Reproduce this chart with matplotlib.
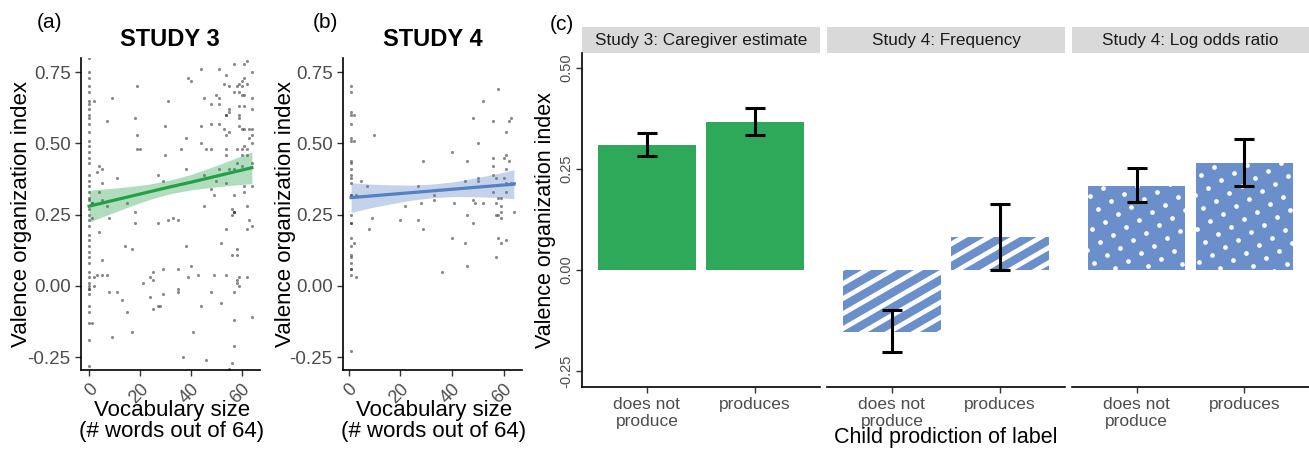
import matplotlib
matplotlib.use('Agg')
import matplotlib.pyplot as plt
import numpy as np

plt.rcParams['font.family'] = ['Liberation Sans', 'DejaVu Sans']
plt.rcParams['axes.unicode_minus'] = False

# ---- data ----
# Study 3: vocabulary size vs valence organization index
s3_vocab = [0] * 45 + [
    1, 2, 19, 9, 7, 18, 30, 19, 19, 20, 4, 5, 3, 27, 11, 5, 29, 4, 1, 5, 7, 15, 18,
    1, 8, 18, 27, 4, 14, 17, 5, 3, 5, 7, 2, 2, 8, 11, 13, 15, 1, 17, 9, 21, 24, 25,
    25, 29, 24, 29, 25, 27, 28,
    57, 61, 62, 44, 51, 64, 39, 40, 54, 61, 60, 59, 62, 53, 55, 58, 60, 57, 59, 61,
    60, 45, 50, 51, 64, 48, 51, 55, 55, 59, 61, 64, 54, 54, 59, 59, 31, 44, 48, 51,
    53, 55, 59, 60, 61, 63, 64, 38, 54, 64, 63, 64, 44, 36, 46, 48, 54, 58, 60, 61,
    62, 30, 54, 60, 62, 64, 58, 60, 38, 45, 51, 55, 57, 50, 54, 61, 64, 48, 61, 49,
    57, 45, 62, 56, 57, 57,
    31, 33, 35, 56, 57, 63, 64, 62, 54, 38, 52, 56, 58, 58, 40, 35, 39, 43, 49, 54,
    59, 58, 58, 59, 62, 35, 35, 48, 57, 44, 52, 57, 64, 41, 57, 37, 46, 56, 55,
]
s3_index = [
    0.80, 0.75, 0.73, 0.70, 0.68, 0.65, 0.64, 0.62, 0.60, 0.59, 0.57, 0.54, 0.51,
    0.49, 0.47, 0.45, 0.43, 0.39, 0.37, 0.35, 0.33, 0.31, 0.30, 0.27, 0.25, 0.23,
    0.21, 0.18, 0.16, 0.14, 0.12, 0.10, 0.08, 0.05, 0.03, 0.01, 0.00, -0.01, -0.01,
    -0.03, -0.07, -0.09, -0.13, -0.19, -0.28,
    0.29, 0.65, 0.70, 0.66, 0.58, 0.59, 0.56, 0.53, 0.48, 0.48, 0.42, 0.41, 0.40,
    0.39, 0.38, 0.36, 0.37, 0.33, 0.29, 0.30, 0.28, 0.29, 0.26,
    0.24, 0.24, 0.22, 0.22, 0.19, 0.14, 0.13, 0.09, 0.04, 0.04, 0.04, 0.03, 0.00,
    -0.02, -0.02, -0.05, -0.09, -0.13, -0.16, -0.18, 0.01, 0.03, 0.02, 0.05, 0.06,
    -0.04, -0.03, -0.08, -0.07, -0.07,
    0.78, 0.78, 0.79, 0.76, 0.76, 0.75, 0.73, 0.72, 0.74, 0.73, 0.72, 0.71, 0.71,
    0.71, 0.70, 0.70, 0.70, 0.68, 0.68, 0.67, 0.67, 0.66, 0.67, 0.66, 0.66, 0.64,
    0.64, 0.62, 0.61, 0.63, 0.63, 0.62, 0.60, 0.60, 0.60, 0.59, 0.65, 0.56, 0.57,
    0.57, 0.55, 0.54, 0.56, 0.55, 0.55, 0.55, 0.55, 0.52, 0.53, 0.53, 0.52, 0.50,
    0.50, 0.48, 0.48, 0.48, 0.48, 0.48, 0.48, 0.49, 0.48, 0.46, 0.46, 0.46, 0.46,
    0.43, 0.43, 0.42, 0.41, 0.39, 0.41, 0.41, 0.41, 0.37, 0.36, 0.35, 0.35, 0.34,
    0.33, 0.32, 0.32, 0.28, 0.28, 0.27, 0.26, 0.26,
    0.23, 0.24, 0.23, 0.25, 0.26, 0.23, 0.21, 0.20, 0.20, 0.14, 0.15, 0.11, 0.13,
    0.11, 0.07, 0.06, 0.03, 0.04, 0.04, 0.04, 0.03, 0.02, 0.01, 0.00, 0.03, -0.01,
    -0.02, -0.02, -0.02, -0.07, -0.06, -0.12, -0.11, -0.16, -0.21, -0.25, -0.26,
    -0.27, -0.29,
]
# Study 4
s4_vocab = [1] * 27 + [2, 2] + [
    3, 5, 7, 10, 22, 28, 29, 27, 33, 33, 41, 40, 45, 46, 48, 50, 50, 50, 48, 49, 52,
    52, 56, 56, 56, 56, 56, 57, 57, 58, 58, 59, 59, 60, 61, 61, 62, 60, 61, 61, 61,
    62, 63, 63, 64, 64, 57, 59,
    2, 3, 8, 9, 20, 27, 29, 36, 40, 45, 46, 48, 46, 57, 58, 59, 61, 59, 58,
]
s4_index = [
    0.70, 0.68, 0.61, 0.60, 0.57, 0.52, 0.51, 0.44, 0.43, 0.41, 0.39, 0.38, 0.36,
    0.32, 0.32, 0.25, 0.22, 0.22, 0.17, 0.14, 0.11, 0.10, 0.08, 0.06, 0.06, 0.04,
    -0.23, 0.60, 0.51,
    0.32, 0.37, 0.35, 0.53, 0.28, 0.29, 0.44, 0.35, 0.32, 0.30, 0.29, 0.47, 0.37,
    0.44, 0.59, 0.50, 0.38, 0.37, 0.30, 0.29, 0.65, 0.29, 0.58, 0.45, 0.42, 0.39,
    0.33, 0.38, 0.29, 0.69, 0.31, 0.31, 0.28, 0.45, 0.46, 0.41, 0.44, 0.38, 0.36,
    0.33, 0.54, 0.58, 0.59, 0.36, 0.36, 0.26, 0.25, 0.26,
    0.15, 0.03, 0.20, 0.24, 0.23, 0.23, 0.20, 0.05, 0.17, 0.15, 0.25, 0.22, 0.07,
    0.10, 0.17, 0.15, 0.16, 0.24, 0.25,
]

# fitted line and 95% band, read at a few vocabulary sizes
s3_fit_x = [0, 8, 16, 24, 32, 40, 48, 56, 64]
s3_fit = [0.280, 0.297, 0.314, 0.331, 0.348, 0.364, 0.381, 0.398, 0.415]
s3_lo = [0.224, 0.252, 0.279, 0.304, 0.324, 0.337, 0.346, 0.353, 0.359]
s3_hi = [0.336, 0.342, 0.349, 0.358, 0.372, 0.391, 0.416, 0.443, 0.471]
s4_fit_x = [1, 9, 17, 25, 33, 41, 49, 57, 64]
s4_fit = [0.310, 0.316, 0.322, 0.328, 0.334, 0.340, 0.346, 0.352, 0.357]
s4_lo = [0.258, 0.275, 0.289, 0.302, 0.310, 0.314, 0.313, 0.311, 0.306]
s4_hi = [0.362, 0.357, 0.355, 0.354, 0.358, 0.366, 0.379, 0.393, 0.408]

# panel (c)
categories = ['does not\nproduce', 'produces']
facets = ['Study 3: Caregiver estimate', 'Study 4: Frequency', 'Study 4: Log odds ratio']
bar_means = [[0.309, 0.366], [-0.153, 0.082], [0.208, 0.265]]
bar_lo = [[0.283, 0.334], [-0.203, 0.000], [0.168, 0.208]]
bar_hi = [[0.339, 0.400], [-0.099, 0.163], [0.252, 0.324]]

GREEN = '#2EA95A'
BLUE = '#6A8FCB'
TICK_GREY = '#4D4D4D'

W, H = 1309, 450
fig = plt.figure(figsize=(W / 100, H / 100), dpi=100)


def px_axes(l, t, r, b):
    return fig.add_axes([l / W, 1 - b / H, (r - l) / W, (b - t) / H])


def scatter_panel(ax, vocab, idx, fx, fy, lo, hi, line_col, band_col, xlim):
    ax.scatter(vocab, idx, s=5, color='#3A3A3A', alpha=0.6, linewidths=0, zorder=2)
    ax.fill_between(fx, lo, hi, color=band_col, alpha=0.35, lw=0, zorder=3)
    ax.plot(fx, fy, color=line_col, lw=2.3, zorder=4)
    ax.set_xlim(*xlim)
    ax.set_ylim(-0.295, 0.80)
    ax.set_yticks([-0.25, 0, 0.25, 0.5, 0.75])
    ax.set_yticklabels(['-0.25', '0.00', '0.25', '0.50', '0.75'])
    ax.set_xticks([0, 20, 40, 60])
    ax.set_xticklabels(['0', '20', '40', '60'], rotation=45, ha='right',
                       rotation_mode='anchor')
    for s in ['top', 'right']:
        ax.spines[s].set_visible(False)
    for s in ['left', 'bottom']:
        ax.spines[s].set_linewidth(1.2)
    ax.tick_params(length=4, width=1.0, color='#333333', labelcolor=TICK_GREY,
                   labelsize=13.5)
    ax.tick_params(axis='x', labelsize=13)


ax_a = px_axes(81, 58, 260, 370)
scatter_panel(ax_a, s3_vocab, s3_index, s3_fit_x, s3_fit, s3_lo, s3_hi,
              '#22A046', '#22A046', (-3.2, 67.2))
ax_b = px_axes(343, 58, 522, 370)
scatter_panel(ax_b, s4_vocab, s4_index, s4_fit_x, s4_fit, s4_lo, s4_hi,
              '#5680C4', '#5680C4', (-2.15, 67.15))

for x, t in [(170, 'STUDY 3'), (433, 'STUDY 4')]:
    fig.text(x / W, 1 - 39 / H, t, ha='center', va='center', fontsize=17,
             fontweight='bold')
for x, y, t in [(50, 22, '(a)'), (325, 22, '(b)'), (562, 24, '(c)')]:
    fig.text(x / W, 1 - y / H, t, ha='center', va='center', fontsize=15)
for x in [22, 285]:
    fig.text(x / W, 1 - 214 / H, 'Valence organization index', rotation=90,
             ha='center', va='center', fontsize=16)
for x in [172, 434]:
    fig.text(x / W, 1 - 421 / H, 'Vocabulary size\n(# words out of 64)',
             ha='center', va='center', fontsize=16, linespacing=1.05)


def pattern_frame(ax, bar, angle):
    # bar corners in pixels, plus the unit vectors of the rotated pattern grid
    bb = bar.get_window_extent()
    th = np.deg2rad(angle)
    d = np.array([np.cos(th), np.sin(th)])
    n = np.array([-np.sin(th), np.cos(th)])
    centre = np.array([(bb.x0 + bb.x1) / 2, (bb.y0 + bb.y1) / 2])
    L = np.hypot(bb.width, bb.height) / 2 + 20
    return d, n, centre, L


def stripe_fill(ax, bar, spacing=13.0, angle=30, lw=3.4):
    d, n, centre, L = pattern_frame(ax, bar, angle)
    inv = ax.transData.inverted()
    for c in np.arange(-L, L + spacing, spacing):
        p = inv.transform([centre + c * n - L * d, centre + c * n + L * d])
        ln, = ax.plot(p[:, 0], p[:, 1], color='white', lw=lw,
                      solid_capstyle='butt', zorder=2.5)
        ln.set_clip_path(bar)


def dot_fill(ax, bar, spacing=15.0, angle=30, size=3.4):
    d, n, centre, L = pattern_frame(ax, bar, angle)
    k = np.arange(-L, L + spacing, spacing)
    uu, vv = np.meshgrid(k, k)
    pts = centre + np.outer(uu.ravel(), d) + np.outer(vv.ravel(), n)
    p = ax.transData.inverted().transform(pts)
    ln, = ax.plot(p[:, 0], p[:, 1], ls='None', marker='o', markersize=size,
                  markerfacecolor='white', markeredgewidth=0, zorder=2.5)
    ln.set_clip_path(bar)


panel_px = [(582, 820), (827, 1065), (1072, 1309)]
xpos = [1, 2]
for i, (l, r) in enumerate(panel_px):
    strip = px_axes(l, 27, r, 53)
    strip.set_facecolor('#D9D9D9')
    strip.set_xticks([])
    strip.set_yticks([])
    for s in strip.spines.values():
        s.set_visible(False)
    strip.text(0.5, 0.5, facets[i], ha='center', va='center', fontsize=12.3,
               color='#1A1A1A', transform=strip.transAxes)

    ax = px_axes(l, 53, r, 387)
    ax.set_xlim(0.4, 2.6)
    ax.set_ylim(-0.29, 0.537)
    color = GREEN if i == 0 else BLUE
    bars = ax.bar(xpos, bar_means[i], width=0.9, color=color, lw=0, zorder=2)
    means = np.array(bar_means[i])
    yerr = [means - np.array(bar_lo[i]), np.array(bar_hi[i]) - means]
    ax.errorbar(xpos, means, yerr=yerr, fmt='none', ecolor='black', elinewidth=2.2,
                capsize=7.5, capthick=2.2, zorder=4)
    if i == 1:
        for b in bars:
            stripe_fill(ax, b)
    elif i == 2:
        for b in bars:
            dot_fill(ax, b)
    ax.set_xlim(0.4, 2.6)
    ax.set_ylim(-0.29, 0.537)

    for s in ['top', 'right']:
        ax.spines[s].set_visible(False)
    ax.spines['bottom'].set_linewidth(1.2)
    ax.set_xticks(xpos)
    ax.set_xticklabels(categories, fontsize=12.5, color=TICK_GREY, linespacing=1.15)
    ax.tick_params(axis='x', length=4, width=1.0, color='#333333', pad=3)
    if i == 0:
        ax.spines['left'].set_linewidth(1.2)
        ax.set_yticks([-0.25, 0, 0.25, 0.5])
        ax.set_yticklabels(['-0.25', '0.00', '0.25', '0.50'], rotation=90,
                           va='center', fontsize=10.5, color=TICK_GREY)
        ax.tick_params(axis='y', length=4, width=1.0, color='#333333', pad=2)
    else:
        ax.spines['left'].set_visible(False)
        ax.set_yticks([])

fig.text(545 / W, 1 - 220 / H, 'Valence organization index', rotation=90,
         ha='center', va='center', fontsize=15.5)
fig.text(946 / W, 1 - 438 / H, 'Child prodiction of label', ha='center',
         va='center', fontsize=15.5)

fig.savefig('out.png', dpi=100)
